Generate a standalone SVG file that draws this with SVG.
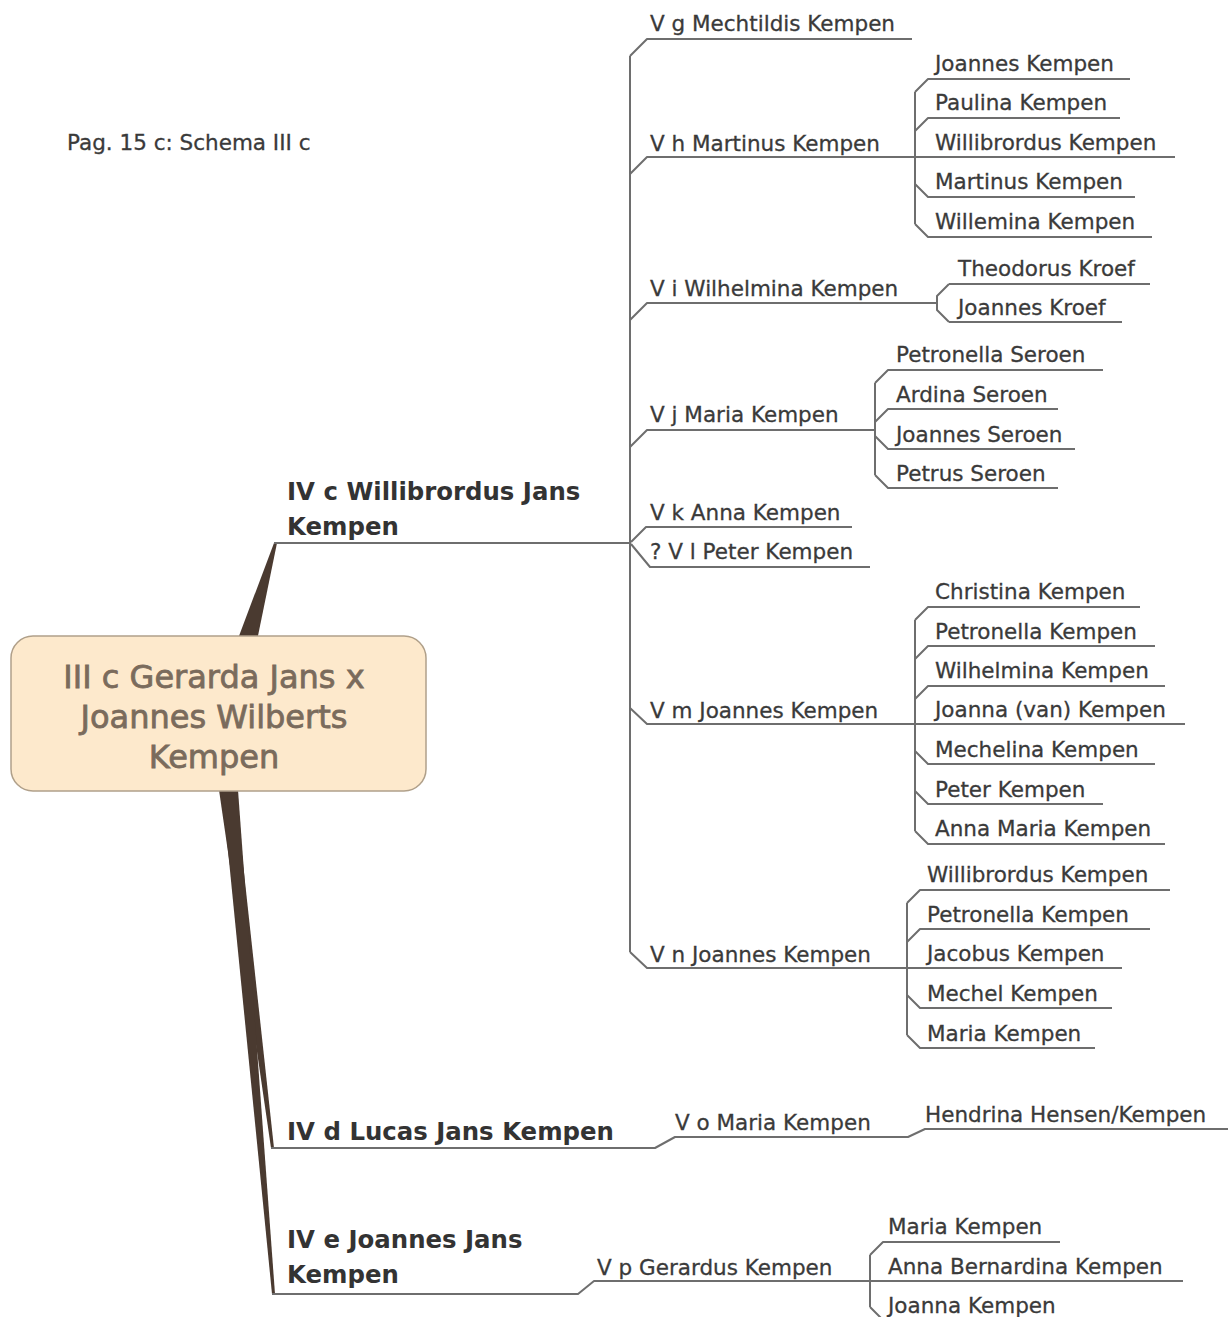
<svg xmlns="http://www.w3.org/2000/svg" width="1232" height="1317" viewBox="0 0 1232 1317">
<style>
.t{font-family:"DejaVu Sans",sans-serif;font-size:21.5px;fill:#3a3a3a;stroke:#3a3a3a;stroke-width:0.3}
.b{font-family:"DejaVu Sans",sans-serif;font-size:24.4px;font-weight:bold;fill:#333}
.c{font-family:"DejaVu Sans",sans-serif;font-size:32px;fill:#7a6b5c;stroke:#7a6b5c;stroke-width:0.8;text-anchor:middle}
.ln{fill:none;stroke:#6e6e6e;stroke-width:2;stroke-linejoin:round}
.br{fill:#4a3a30}
</style>
<rect width="1232" height="1317" fill="#fff"/>
<text class="t" x="67" y="150">Pag. 15 c: Schema III c</text>
<g id="connectors">
<polygon class="br" points="230,660 253,660 277,543 274,543"/>
<polygon class="br" points="219,790 235,790 274,1148 271,1148"/>
<polygon class="br" points="222,790 238,790 275,1294 272,1294"/>
<path class="ln" d="M274,543 H630 M630,56 V952"/>
<path class="ln" d="M630,56 L647,39 H912"/>
<path class="ln" d="M630,174 L647,157 H1175 M915,92 V224 M915,92 L928,79 H1130 M915,131 L928,118 H1120 M915,184 L928,197 H1135 M915,224 L928,237 H1152"/>
<path class="ln" d="M630,320 L647,303 H937 M949,284 L937,296 V310 L949,322 M949,284 H1150 M949,322 H1122"/>
<path class="ln" d="M630,447 L647,430 H875 M875,383 V475 M875,383 L888,370 H1103 M875,422 L888,409 H1058 M875,436 L888,449 H1075 M875,475 L888,488 H1058"/>
<path class="ln" d="M631,542 L646,527 H852 M631,544 L650,567 H870"/>
<path class="ln" d="M630,708 L647,724 H1185 M915,620 V831 M915,620 L928,607 H1140 M915,659 L928,646 H1155 M915,699 L928,686 H1165 M915,751 L928,764 H1155 M915,791 L928,804 H1103 M915,831 L928,844 H1165"/>
<path class="ln" d="M630,952 L647,968 H1122 M907,903 V1035 M907,903 L920,890 H1170 M907,942 L920,929 H1150 M907,995 L920,1008 H1112 M907,1035 L920,1048 H1095"/>
<path class="ln" d="M271,1148 H655 L675,1137 H908 L925,1129 H1228"/>
<path class="ln" d="M272,1294 H578 L594,1281 H1183 M870,1255 V1307 M870,1255 L883,1242 H1060 M870,1307 L883,1320 H1100"/>
</g>
<g id="root">
<rect x="11" y="636" width="415" height="155" rx="22" fill="#fde9cc" stroke="#b0a08a" stroke-width="1.5"/>
<text class="c" x="214" y="688">III c Gerarda Jans x</text>
<text class="c" x="214" y="728">Joannes Wilberts</text>
<text class="c" x="214" y="768">Kempen</text>
</g>
<g id="IVc"><text class="b" x="287" y="500">IV c Willibrordus Jans</text><text class="b" x="287" y="535">Kempen</text></g>
<g id="IVd"><text class="b" x="287" y="1140">IV d Lucas Jans Kempen</text></g>
<g id="IVe"><text class="b" x="287" y="1248">IV e Joannes Jans</text><text class="b" x="287" y="1283">Kempen</text></g>
<g id="Vg"><text class="t" x="650" y="31">V g Mechtildis Kempen</text></g>
<g id="Vh"><text class="t" x="650" y="151">V h Martinus Kempen</text></g>
<g id="Vh1"><text class="t" x="935" y="71">Joannes Kempen</text></g>
<g id="Vh2"><text class="t" x="935" y="110">Paulina Kempen</text></g>
<g id="Vh3"><text class="t" x="935" y="150">Willibrordus Kempen</text></g>
<g id="Vh4"><text class="t" x="935" y="189">Martinus Kempen</text></g>
<g id="Vh5"><text class="t" x="935" y="229">Willemina Kempen</text></g>
<g id="Vi"><text class="t" x="650" y="296">V i Wilhelmina Kempen</text></g>
<g id="Vi1"><text class="t" x="958" y="276">Theodorus Kroef</text></g>
<g id="Vi2"><text class="t" x="958" y="315">Joannes Kroef</text></g>
<g id="Vj"><text class="t" x="650" y="422">V j Maria Kempen</text></g>
<g id="Vj1"><text class="t" x="896" y="362">Petronella Seroen</text></g>
<g id="Vj2"><text class="t" x="896" y="402">Ardina Seroen</text></g>
<g id="Vj3"><text class="t" x="896" y="442">Joannes Seroen</text></g>
<g id="Vj4"><text class="t" x="896" y="481">Petrus Seroen</text></g>
<g id="Vk"><text class="t" x="650" y="520">V k Anna Kempen</text></g>
<g id="Vl"><text class="t" x="650" y="559">? V l Peter Kempen</text></g>
<g id="Vm"><text class="t" x="650" y="718">V m Joannes Kempen</text></g>
<g id="Vm1"><text class="t" x="935" y="599">Christina Kempen</text></g>
<g id="Vm2"><text class="t" x="935" y="639">Petronella Kempen</text></g>
<g id="Vm3"><text class="t" x="935" y="678">Wilhelmina Kempen</text></g>
<g id="Vm4"><text class="t" x="935" y="717">Joanna (van) Kempen</text></g>
<g id="Vm5"><text class="t" x="935" y="757">Mechelina Kempen</text></g>
<g id="Vm6"><text class="t" x="935" y="797">Peter Kempen</text></g>
<g id="Vm7"><text class="t" x="935" y="836">Anna Maria Kempen</text></g>
<g id="Vn"><text class="t" x="650" y="962">V n Joannes Kempen</text></g>
<g id="Vn1"><text class="t" x="927" y="882">Willibrordus Kempen</text></g>
<g id="Vn2"><text class="t" x="927" y="922">Petronella Kempen</text></g>
<g id="Vn3"><text class="t" x="927" y="961">Jacobus Kempen</text></g>
<g id="Vn4"><text class="t" x="927" y="1001">Mechel Kempen</text></g>
<g id="Vn5"><text class="t" x="927" y="1041">Maria Kempen</text></g>
<g id="Vo"><text class="t" x="675" y="1130">V o Maria Kempen</text></g>
<g id="Vo1"><text class="t" x="925" y="1122">Hendrina Hensen/Kempen</text></g>
<g id="Vp"><text class="t" x="597" y="1275">V p Gerardus Kempen</text></g>
<g id="Vp1"><text class="t" x="888" y="1234">Maria Kempen</text></g>
<g id="Vp2"><text class="t" x="888" y="1274">Anna Bernardina Kempen</text></g>
<g id="Vp3"><text class="t" x="888" y="1313">Joanna Kempen</text></g>
</svg>
